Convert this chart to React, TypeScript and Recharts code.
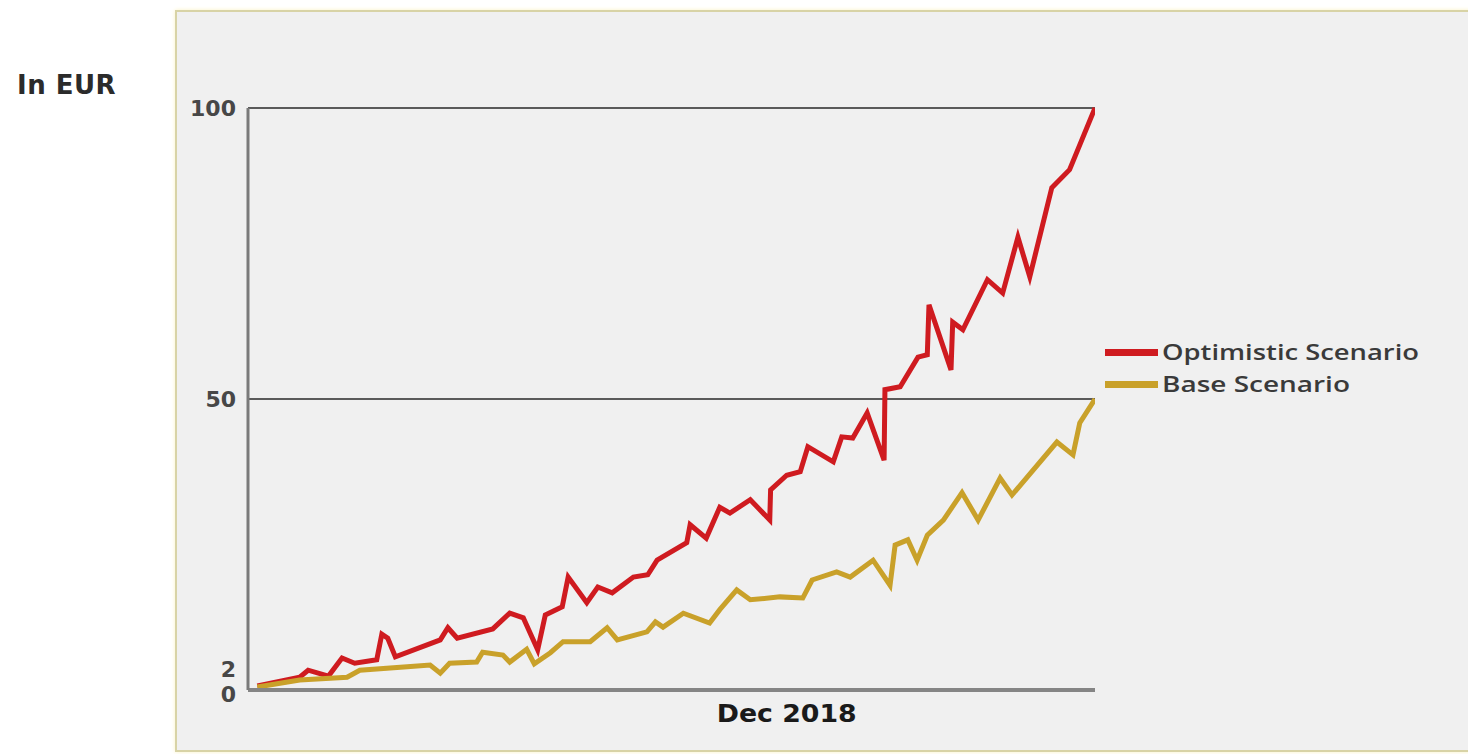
import React from "react";
import { LineChart, Line, XAxis, YAxis, ReferenceLine, Legend } from "recharts";

// 時間軸（0〜100の相対位置）と値（EUR）
const optimisticT = [
  1.1, 6.1, 7.1, 9.5, 11.1, 12.6, 15.2, 15.8, 16.5, 17.4, 22.7, 23.6, 24.7, 28.9, 30.9, 32.5,
  34.2, 35.1, 37.1, 37.8, 40.0, 41.3, 43.0, 45.5, 47.2, 48.3, 51.8, 52.2, 54.1, 55.7, 56.9,
  59.3, 61.6, 61.7, 63.6, 65.2, 66.1, 69.1, 70.1, 71.4, 73.1, 75.1, 75.2, 77.0, 79.1, 80.2,
  80.4, 83.0, 83.2, 84.4, 87.3, 89.1, 90.9, 92.3, 94.9, 97.0, 100,
];
const optimisticValues = [
  0.7, 2.2, 3.4, 2.4, 5.5, 4.6, 5.2, 9.6, 8.9, 5.7, 8.6, 10.7, 8.9, 10.5, 13.2, 12.4,
  6.9, 12.9, 14.3, 19.4, 15.0, 17.7, 16.7, 19.4, 19.8, 22.3, 25.3, 28.4, 26.1, 31.4, 30.4,
  32.7, 29.2, 34.4, 36.9, 37.5, 41.8, 39.2, 43.5, 43.3, 47.6, 39.5, 51.6, 52.1, 57.2, 57.6,
  66.2, 55.0, 63.2, 61.9, 70.5, 68.2, 77.8, 71.0, 86.3, 89.4, 100,
];
const baseT = [
  1.1, 6.1, 11.7, 13.2, 18.8, 21.5, 22.7, 23.8, 27.0, 27.7, 30.1, 30.9, 32.9, 33.8, 35.7,
  37.2, 40.4, 42.4, 43.6, 47.1, 48.1, 49.0, 51.4, 54.5, 55.7, 57.7, 59.3, 62.8, 65.5, 66.6,
  69.5, 71.1, 73.8, 75.8, 76.4, 77.9, 79.0, 80.2, 82.1, 84.3, 86.2, 88.8, 90.2, 95.5, 97.4,
  98.2, 100,
];
const baseValues = [
  0.5, 1.7, 2.2, 3.4, 4.0, 4.3, 2.9, 4.6, 4.8, 6.5, 6.0, 4.8, 7.0, 4.5, 6.4,
  8.3, 8.3, 10.7, 8.6, 10.0, 11.7, 10.8, 13.2, 11.5, 13.8, 17.2, 15.5, 16.0, 15.8, 18.9,
  20.3, 19.4, 22.3, 18.0, 24.9, 25.8, 22.3, 26.6, 29.2, 33.9, 29.2, 36.4, 33.5, 42.6, 40.4,
  45.9, 50,
];
const yTicks = [0, 2, 50, 100];
const gridValues = [50, 100];
const xTicks = [63.6];
const xTickLabels = ["Dec 2018"];
const legendOrder = ["Optimistic Scenario", "Base Scenario"];

const optimisticData = optimisticT.map((t, i) => ({ t, value: optimisticValues[i] }));
const baseData = baseT.map((t, i) => ({ t, value: baseValues[i] }));

const RED = "#cf1b20";
const GOLD = "#c9a12a";
const BOLD_FONT = "'DejaVu Sans', Verdana, sans-serif";

// Y軸ラベル：0 と 2 が重ならないよう少しずらす
const YTick = (props: any) => {
  const { x, y, payload } = props;
  const shift = payload.value === 2 ? -9 : payload.value === 0 ? 4 : 0;
  return (
    <text
      x={x - 4}
      y={y + shift}
      dy="0.36em"
      textAnchor="end"
      fontFamily={BOLD_FONT}
      fontWeight="bold"
      fontSize={22}
      fill="#474747"
    >
      {payload.value}
    </text>
  );
};

const XTick = (props: any) => {
  const { x, y, index } = props;
  return (
    <text
      x={x - 70}
      y={y + 24}
      fontFamily={BOLD_FONT}
      fontWeight="bold"
      fontSize={24}
      fill="#1a1a1a"
      textLength={140}
      lengthAdjust="spacingAndGlyphs"
    >
      {xTickLabels[index]}
    </text>
  );
};

const legendWidths: Record<string, number> = {
  "Optimistic Scenario": 257,
  "Base Scenario": 188,
};

const LegendContent = (props: any) => {
  const items = [...(props.payload || [])].sort(
    (a: any, b: any) => legendOrder.indexOf(a.value) - legendOrder.indexOf(b.value)
  );
  return (
    <div style={{ width: 340 }}>
      {items.map((item: any) => (
        <div
          key={item.value}
          style={{ display: "flex", alignItems: "center", height: 32 }}
        >
          <span
            style={{
              display: "inline-block",
              width: 53,
              height: 7,
              background: item.color,
              marginRight: 4,
            }}
          />
          <svg width={280} height={32} style={{ overflow: "visible" }}>
            <text
              x={0}
              y={16}
              dy="0.36em"
              fontFamily="'Open Sans', sans-serif"
              fontWeight={600}
              fontSize={22}
              fill="#3a3a3a"
              textLength={legendWidths[item.value]}
              lengthAdjust="spacingAndGlyphs"
            >
              {item.value}
            </text>
          </svg>
        </div>
      ))}
    </div>
  );
};

export default function App() {
  return (
    <div
      style={{
        position: "absolute",
        left: 0,
        top: 0,
        width: 1468,
        height: 754,
        background: "#ffffff",
        overflow: "hidden",
      }}
    >
      {/* グレーのパネル */}
      <div
        style={{
          position: "absolute",
          left: 175,
          top: 10,
          width: 1310,
          height: 738,
          background: "#f0f0f0",
          border: "2px solid #d8d3a6",
          boxShadow: "0 0 4px #fbf3c4",
        }}
      />
      <div
        style={{
          position: "absolute",
          left: 17,
          top: 72,
          fontFamily: BOLD_FONT,
          fontWeight: "bold",
          fontSize: 26,
          lineHeight: 1,
          color: "#2b2b2b",
          letterSpacing: 0.5,
        }}
      >
        In EUR
      </div>
      <div style={{ position: "absolute", left: 0, top: 0 }}>
        <LineChart
          width={1468}
          height={754}
          margin={{ top: 108, right: 373, bottom: 24, left: 188 }}
        >
          <XAxis
            type="number"
            dataKey="t"
            domain={[0, 100]}
            ticks={xTicks}
            tick={<XTick />}
            tickLine={false}
            axisLine={{ stroke: "#858585", strokeWidth: 4 }}
            height={40}
            allowDataOverflow
          />
          <YAxis
            type="number"
            domain={[0, 100]}
            ticks={yTicks}
            interval={0}
            tick={<YTick />}
            tickLine={false}
            axisLine={{ stroke: "#7a7a7a", strokeWidth: 3 }}
            width={60}
          />
          {gridValues.map((v) => (
            <ReferenceLine key={v} y={v} stroke="#5a5a5a" strokeWidth={2} />
          ))}
          <Legend
            layout="vertical"
            align="center"
            verticalAlign="middle"
            content={<LegendContent />}
            wrapperStyle={{ left: 1105, top: 336, width: 340, height: 64 }}
          />
          <Line
            data={optimisticData}
            dataKey="value"
            name="Optimistic Scenario"
            type="linear"
            stroke={RED}
            strokeWidth={5}
            dot={false}
            activeDot={false}
            isAnimationActive={false}
          />
          <Line
            data={baseData}
            dataKey="value"
            name="Base Scenario"
            type="linear"
            stroke={GOLD}
            strokeWidth={5}
            dot={false}
            activeDot={false}
            isAnimationActive={false}
          />
        </LineChart>
      </div>
    </div>
  );
}
